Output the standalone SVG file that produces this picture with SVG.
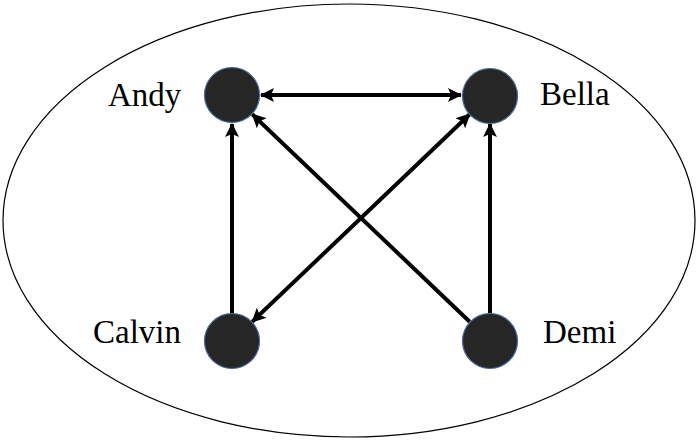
<svg xmlns="http://www.w3.org/2000/svg" width="698" height="441" viewBox="0 0 698 441">
  <style>
    .node { fill: #262626; stroke: #4a6a9e; stroke-width: 1.2; }
    .label { font-family: "Liberation Serif", "Times New Roman", serif; font-size: 33px; fill: #000; }
    .edge { stroke: #000; stroke-width: 4; fill: none; }
  </style>
  <defs>
    <marker id="arrow" viewBox="0 0 14 14" refX="13" refY="7" markerWidth="14" markerHeight="14" markerUnits="userSpaceOnUse" orient="auto-start-reverse">
      <path d="M0,0 L14,7 L0,14 L3,7 Z" fill="#000"/>
    </marker>
  </defs>
  <rect width="698" height="441" fill="#fff"/>
  <ellipse cx="349" cy="220.5" rx="346" ry="216.5" fill="none" stroke="#000" stroke-width="1.2"/>

  <g id="connectors">
    <line class="edge" x1="261" y1="95" x2="461" y2="95" marker-start="url(#arrow)" marker-end="url(#arrow)"/>
    <line class="edge" x1="232" y1="313" x2="232" y2="124" marker-end="url(#arrow)"/>
    <line class="edge" x1="490" y1="313" x2="490" y2="124" marker-end="url(#arrow)"/>
    <line class="edge" x1="469.7" y1="321.7" x2="252.3" y2="114.3" marker-end="url(#arrow)"/>
    <line class="edge" x1="469.7" y1="114.3" x2="252.3" y2="321.7" marker-start="url(#arrow)" marker-end="url(#arrow)"/>
  </g>

  <g id="andy">
    <circle class="node" cx="232" cy="95" r="27.5"/>
    <text class="label" x="108" y="106">Andy</text>
  </g>
  <g id="bella">
    <circle class="node" cx="490" cy="96" r="27.5"/>
    <text class="label" x="540" y="105">Bella</text>
  </g>
  <g id="calvin">
    <circle class="node" cx="232" cy="341" r="27.5"/>
    <text class="label" x="93" y="343">Calvin</text>
  </g>
  <g id="demi">
    <circle class="node" cx="490" cy="341" r="27.5"/>
    <text class="label" x="543" y="343">Demi</text>
  </g>
</svg>
